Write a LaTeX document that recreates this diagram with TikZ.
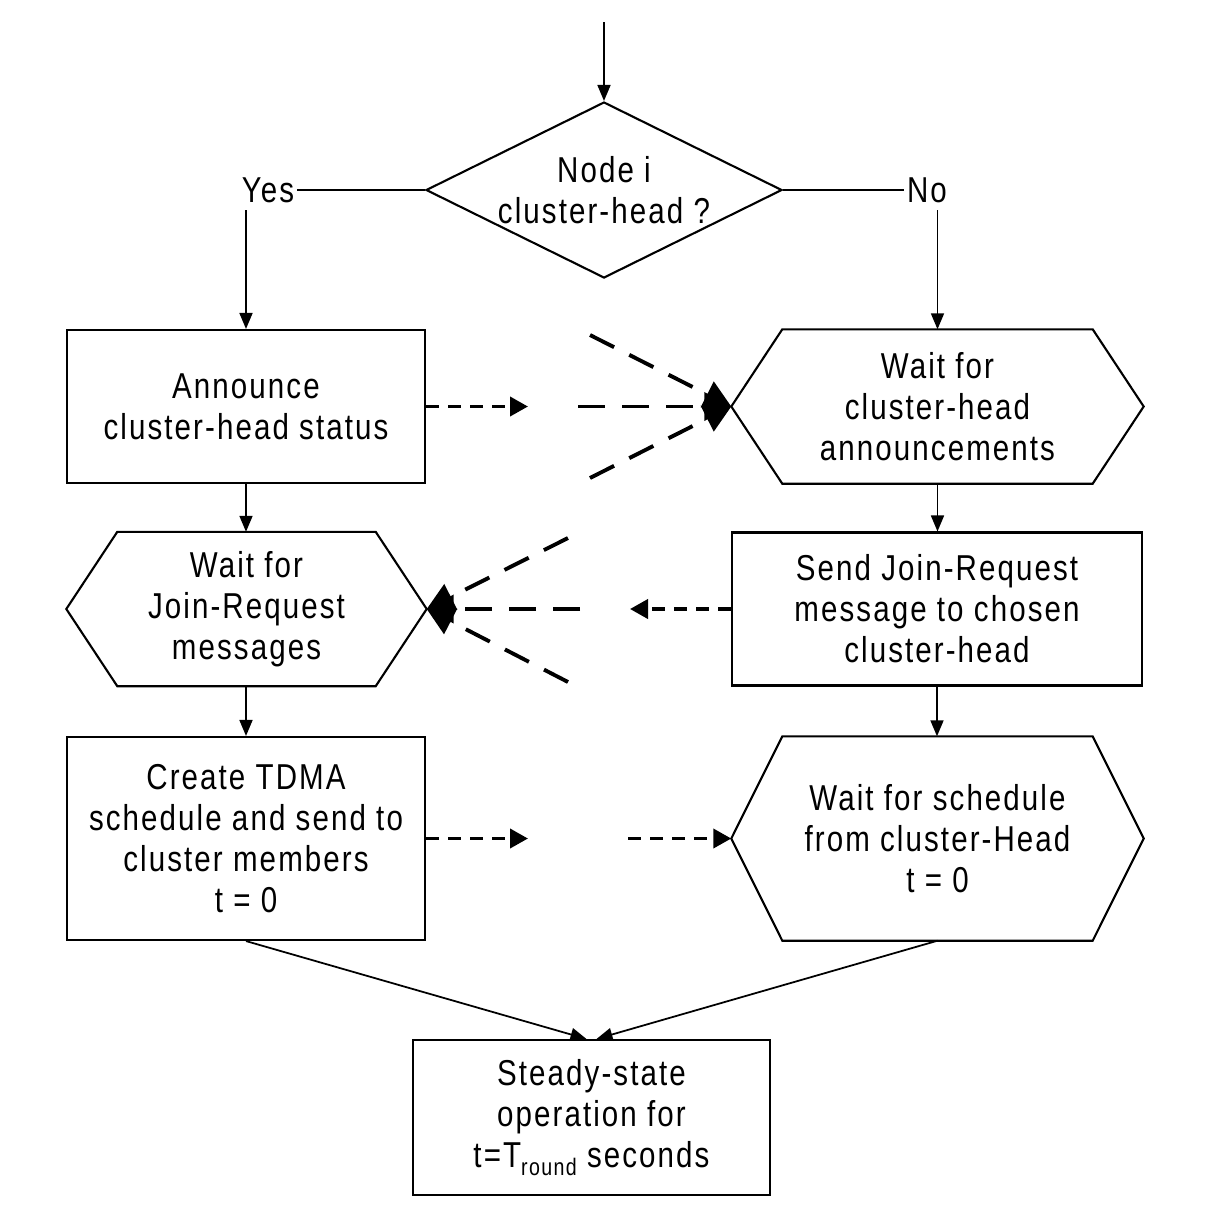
\documentclass[tikz,border=0pt]{standalone}
\usepackage{fontspec}
\setmainfont{Liberation Sans}[FakeStretch=0.82,LetterSpace=5.8]
\usepackage{tikz}
\usetikzlibrary{shapes.geometric,arrows.meta,calc,positioning}
\tikzset{
	txt/.style={font=\fontsize{10.24}{11.66}\selectfont, align=center},
	box/.style={txt, draw, line width=0.6pt, inner sep=0pt},
	hexbox/.style={txt, inner sep=0pt},
	lbl/.style={txt, inner sep=0.02cm},
	arr/.style={line width=0.5pt, -{Triangle[length=0.16cm,width=0.13cm]}},
	sdash/.style={line width=1.1pt, dash pattern=on 0.13cm off 0.09cm, -{Triangle[length=0.18cm,width=0.19cm]}},
	ldash/.style={line width=1.1pt, dash pattern=on 0.27cm off 0.17cm, -{Triangle[length=0.27cm,width=0.28cm]}}
}
\begin{document}
\begin{tikzpicture}
		\useasboundingbox (0,0) rectangle (12.20,-12.26);
		\coordinate (start) at (6.04,-0.22);
		\node[txt, draw, diamond, aspect=2, line width=0.6pt, inner sep=-2pt, minimum width=3.56cm, minimum height=1.76cm] (dec) at (6.04,-1.90) {Node i\\cluster-head ?};
		\node[lbl] (yes) at (2.68,-1.90) {Yes};
		\node[lbl] (no) at (9.27,-1.90) {No};
		\node[box, minimum width=3.58cm, minimum height=1.53cm] (ann) at (2.46,-4.065) {Announce\\cluster-head status};
		\node[hexbox, minimum width=4.11cm, minimum height=1.53cm] (wca) at (9.375,-4.065) {Wait for\\cluster-head\\announcements};
		\node[hexbox, minimum width=3.59cm, minimum height=1.53cm] (wjr) at (2.465,-6.09) {Wait for\\Join-Request\\messages};
		\node[box, minimum width=4.10cm, minimum height=1.53cm] (sjr) at (9.37,-6.09) {Send Join-Request\\message to chosen\\cluster-head};
		\node[box, minimum width=3.58cm, minimum height=2.03cm] (tdma) at (2.46,-8.385) {Create TDMA\\schedule and send to\\cluster members\\t = 0};
		\node[hexbox, minimum width=4.11cm, minimum height=2.03cm] (wsc) at (9.375,-8.385) {Wait for schedule\\from cluster-Head\\t = 0};
		\node[box, minimum width=3.57cm, minimum height=1.55cm] (ss) at (5.915,-11.175) {Steady-state\\operation for\\t=T\raisebox{-0.08cm}{\fontsize{6.8}{7}\selectfont round} seconds};
		\foreach \n in {wca,wjr,wsc}
			\draw[line width=0.6pt] (\n.west) -- ([xshift=0.51cm]\n.north west) -- ([xshift=-0.51cm]\n.north east) -- (\n.east) -- ([xshift=-0.51cm]\n.south east) -- ([xshift=0.51cm]\n.south west) -- cycle;
		\draw[arr] (start) -- (dec.north);
		\draw[line width=0.5pt] (dec.west) -- (yes.east);
		\draw[line width=0.5pt] (dec.east) -- (no.west);
		\draw[arr] ([yshift=-0.05cm]yes.south -| ann.north) -- (ann.north);
		\draw[arr] ([yshift=-0.05cm]no.south -| wca.north) -- (wca.north);
		\draw[arr] (ann.south) -- (wjr.north -| ann.south);
		\draw[arr] (wca.south) -- (sjr.north -| wca.south);
		\draw[arr] (wjr.south -| tdma.north) -- (tdma.north);
		\draw[arr] (sjr.south) -- (wsc.north -| sjr.south);
		\coordinate (a1) at (5.28,-4.065);
		\coordinate (b1) at (5.78,-4.065);
		\coordinate (b1u) at (5.90,-3.35);
		\coordinate (b1d) at (5.90,-4.78);
		\draw[sdash] (ann.east) -- (a1);
		\draw[ldash] (b1) -- (wca.west);
		\draw[ldash] (b1u) -- (wca.west);
		\draw[ldash] (b1d) -- (wca.west);
		\coordinate (a2) at (6.30,-6.09);
		\coordinate (b2) at (5.80,-6.09);
		\coordinate (b2u) at (5.68,-5.38);
		\coordinate (b2d) at (5.68,-6.82);
		\draw[sdash] (sjr.west) -- (a2);
		\draw[ldash] (b2) -- (wjr.east);
		\draw[ldash] (b2u) -- (wjr.east);
		\draw[ldash] (b2d) -- (wjr.east);
		\coordinate (a3) at (5.28,-8.385);
		\coordinate (b3) at (6.28,-8.385);
		\draw[sdash] (tdma.east) -- (a3);
		\draw[sdash] (b3) -- (wsc.west);
		\draw[arr] (tdma.south) -- ([xshift=-0.05cm]ss.north);
		\draw[arr] (wsc.south) -- ([xshift=0.05cm]ss.north);
\end{tikzpicture}
\end{document}
